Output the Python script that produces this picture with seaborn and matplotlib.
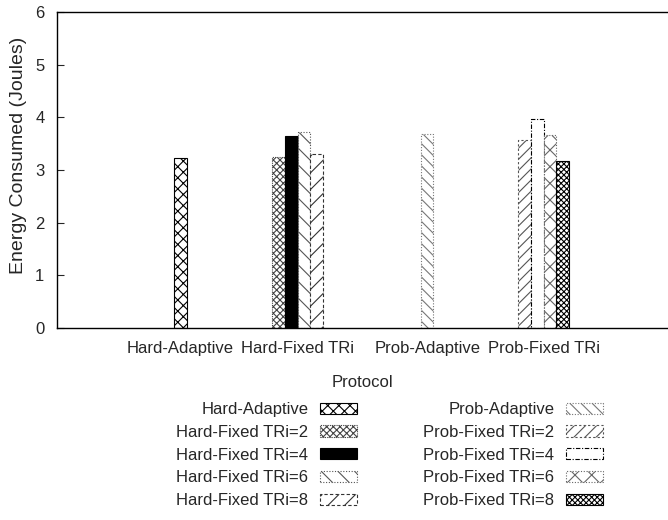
import matplotlib
matplotlib.use("Agg")
import matplotlib.pyplot as plt
import seaborn as sns
import pandas as pd
from matplotlib.patches import Patch

# ---- data ----
protocols = ["Hard-Adaptive", "Hard-Fixed TRi", "Prob-Adaptive", "Prob-Fixed TRi"]
series = ["Hard-Adaptive", "Hard-Fixed TRi=2", "Hard-Fixed TRi=4", "Hard-Fixed TRi=6",
          "Hard-Fixed TRi=8", "Prob-Adaptive", "Prob-Fixed TRi=2", "Prob-Fixed TRi=4",
          "Prob-Fixed TRi=6", "Prob-Fixed TRi=8"]
series_protocol = ["Hard-Adaptive", "Hard-Fixed TRi", "Hard-Fixed TRi", "Hard-Fixed TRi",
                   "Hard-Fixed TRi", "Prob-Adaptive", "Prob-Fixed TRi", "Prob-Fixed TRi",
                   "Prob-Fixed TRi", "Prob-Fixed TRi"]
energy = [3.22, 3.25, 3.65, 3.72, 3.30, 3.68, 3.57, 3.97, 3.66, 3.17]
yticks = [0, 1, 2, 3, 4, 5, 6]

# ---- layout (in bar-width units) ----
group_centers = [9.72, 18.98, 29.2, 38.4]
x_right = 48.2

rows = []
for p, c in zip(protocols, group_centers):
    members = [s for s, sp in zip(series, series_protocol) if sp == p]
    n = len(members)
    for k, s in enumerate(members):
        rows.append({"pos": c + k - (n - 1) / 2, "series": s,
                     "energy": energy[series.index(s)]})
df = pd.DataFrame(rows)

sns.set_style("ticks")
plt.rcParams["font.family"] = ["Liberation Sans", "DejaVu Sans"]
plt.rcParams["hatch.linewidth"] = 0.8

fig = plt.figure(figsize=(6.68, 5.2), dpi=100)
ax = fig.add_axes([0.0853, 0.369, 0.9147, 0.608])

sns.barplot(data=df, x="pos", y="energy", hue="series", hue_order=series,
            native_scale=True, dodge=False, width=1.0, errorbar=None,
            palette=["white"] * len(series), edgecolor="black", linewidth=0.8,
            legend=False, ax=ax)

styles = [
    dict(hatch="xxx", fc="white", ec="black", ls="-"),
    dict(hatch="xxxxx", fc="white", ec="#444444", ls=(0, (1, 1))),
    dict(hatch="", fc="black", ec="black", ls="-"),
    dict(hatch="\\\\", fc="white", ec="#555555", ls=(0, (1, 1.5))),
    dict(hatch="//", fc="white", ec="#333333", ls=(0, (3, 2))),
    dict(hatch="\\\\\\", fc="white", ec="#777777", ls=(0, (1, 1.5))),
    dict(hatch="///", fc="white", ec="#555555", ls=(0, (2, 2))),
    dict(hatch="", fc="white", ec="black", ls=(0, (4, 1.5, 1, 1.5))),
    dict(hatch="xx", fc="white", ec="#666666", ls=(0, (1, 1.5))),
    dict(hatch="xxxxxx", fc="white", ec="black", ls="-"),
]

handles = []
for cont, st in zip(ax.containers, styles):
    for p in cont.patches:
        p.set_hatch(st["hatch"])
        p.set_facecolor(st["fc"])
        p.set_edgecolor(st["ec"])
        p.set_linestyle(st["ls"])
        p.set_linewidth(0.8)
    handles.append(Patch(facecolor=st["fc"], edgecolor=st["ec"], hatch=st["hatch"],
                         linestyle=st["ls"], linewidth=0.8))

ax.set_xlim(0, x_right)
ax.set_ylim(0, 6)
ax.set_yticks(yticks)
ax.set_xticks(group_centers)
ax.set_xticklabels(protocols)
ax.tick_params(axis="x", length=0, pad=9, labelsize=12)
ax.tick_params(axis="y", direction="in", length=5, width=0.8, pad=9, labelsize=12)
for s in ["left", "bottom", "top"]:
    ax.spines[s].set_visible(True)
    ax.spines[s].set_linewidth(1.0)
    ax.spines[s].set_color("black")
ax.spines["right"].set_visible(False)
ax.set_xlabel("Protocol", fontsize=12, labelpad=14)
ax.set_ylabel("Energy Consumed (Joules)", fontsize=14)
ax.yaxis.set_label_coords(-0.049, 0.547)

fig.legend(handles, series, loc="upper center", bbox_to_anchor=(0.583, 0.243),
           ncol=2, markerfirst=False, frameon=False, fontsize=12,
           handlelength=2.2, handleheight=0.65, handletextpad=0.7,
           labelspacing=0.47, columnspacing=4.0, borderpad=0)

fig.savefig("out.png", dpi=100)
